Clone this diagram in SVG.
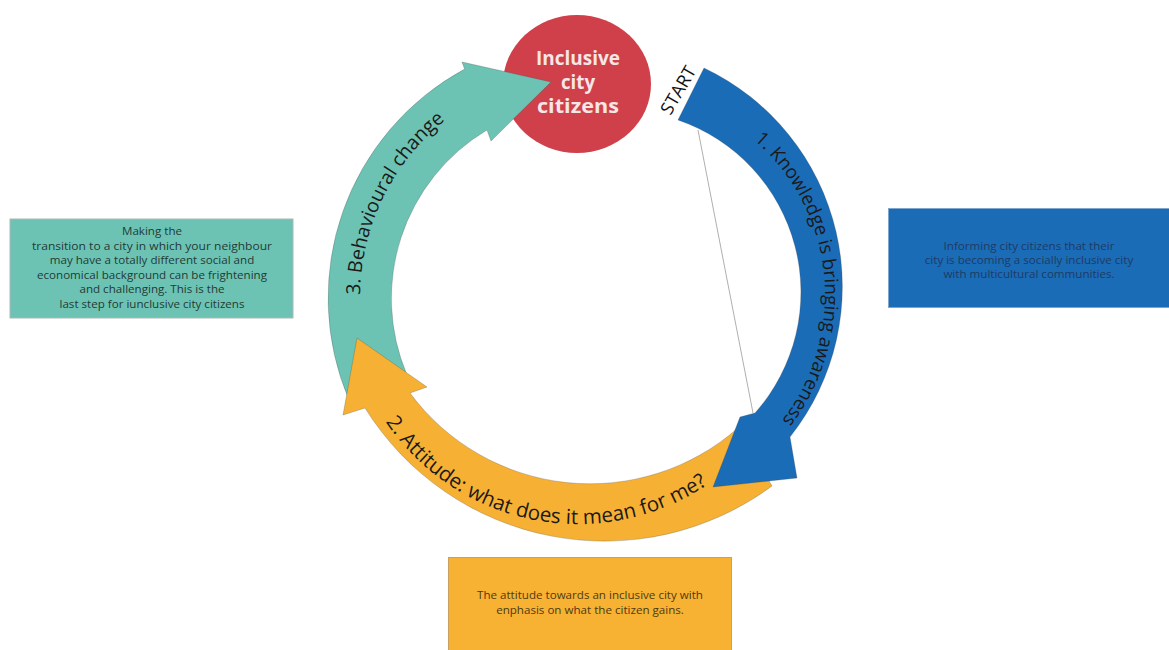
<svg xmlns="http://www.w3.org/2000/svg" width="1169" height="650" viewBox="0 0 1169 650">
<defs>
<style>
text{font-family:"Open Sans","Liberation Sans",sans-serif;}
.box text{font-size:11.6px;text-anchor:middle;}
.lbl{font-size:19px;fill:#1a1a1a;}
.arrow{stroke:#3a3a3a;stroke-opacity:0.35;stroke-width:0.7;stroke-linejoin:miter;}
.title{font-size:19px;font-weight:700;fill:#f6e6e6;text-anchor:middle;}
</style>
<path id="p-blue" d="M720.3,116.2 A205,205 0 0 1 753.7,450.4"/>
<path id="p-orange" d="M367.7,390 A232,232 0 0 0 736.2,461.7"/>
<path id="p-teal" d="M390.5,412 A228,228 0 0 1 556.3,72.2"/>
</defs>
<rect width="1169" height="650" fill="#ffffff"/>

<g id="box-behaviour" class="box">
<rect x="10" y="219" width="283" height="99" fill="#6dc3b3" stroke="#a9bab6" stroke-width="1"/>
<g fill="#1f3b37">
<text x="152" y="235">Making the</text>
<text x="152" y="249.5" textLength="240" lengthAdjust="spacingAndGlyphs">transition to a city in which your neighbour</text>
<text x="152" y="264">may have a totally different social and</text>
<text x="152" y="278.5">economical background can be frightening</text>
<text x="152" y="293">and challenging. This is the</text>
<text x="152" y="307.5">last step for iunclusive city citizens</text>
</g>
</g>

<g id="box-knowledge" class="box">
<rect x="888.5" y="208.5" width="281" height="99" fill="#1b6cb7" stroke="#7fa6cf" stroke-width="1"/>
<g fill="#1d3b66">
<text x="1029" y="250">Informing city citizens that their</text>
<text x="1029" y="264">city is becoming a socially inclusive city</text>
<text x="1029" y="278">with multicultural communities.</text>
</g>
</g>

<g id="box-attitude" class="box">
<rect x="448.5" y="557.5" width="283" height="93" fill="#f7b233" stroke="#c9a060" stroke-width="1"/>
<g fill="#4f3a12">
<text x="590" y="599">The attitude towards an inclusive city with</text>
<text x="590" y="613.5">enphasis on what the citizen gains.</text>
</g>
</g>

<g id="inclusive-citizens">
<ellipse cx="577" cy="84" rx="74" ry="69" fill="#cf404b"/>
<text class="title" x="578" y="65" textLength="84" lengthAdjust="spacingAndGlyphs">Inclusive</text>
<text class="title" x="578" y="89" textLength="34" lengthAdjust="spacingAndGlyphs">city</text>
<text class="title" x="578" y="113" textLength="82" lengthAdjust="spacingAndGlyphs">citizens</text>
</g>

<g id="step3-behaviour">
<path class="arrow" fill="#6dc3b3" d="M349,400 A260,260 0 0 1 464.6,69.1 L462,62 L551,82 L491,141 L487,130 A196,196 0 0 0 407,375 Z"/>
<text class="lbl" style="font-size:19.5px"><textPath href="#p-teal" startOffset="50%" text-anchor="middle">3. Behavioural change</textPath></text>
</g>

<g id="step2-attitude">
<path class="arrow" fill="#f6b134" d="M772,486 A282,282 0 0 1 365,408 L343,415 L357,338 L427,387 L410,393 A224,224 0 0 0 738,428 Z"/>
<text class="lbl" style="font-size:20.5px"><textPath href="#p-orange" startOffset="50%" text-anchor="middle">2. Attitude: what does it mean for me?</textPath></text>
</g>

<g id="step1-knowledge">
<path class="arrow" fill="#1b6cb7" d="M704,68 A242,242 0 0 1 790,437 L797,478 L713,487 L740,417 L755,413 A182,182 0 0 0 678,120 Z"/>
<text class="lbl" style="font-size:18.8px"><textPath href="#p-blue" startOffset="50%" text-anchor="middle">1. Knowledge is bringing awareness</textPath></text>
</g>

<g id="connectors">
<line x1="698" y1="130" x2="753" y2="413" stroke="#9a9a9a" stroke-width="0.8"/>
</g>

<g id="start-label">
<text x="0" y="0" transform="translate(683.6,93.3) rotate(-60)" font-size="18" fill="#111" text-anchor="middle">START</text>
</g>
</svg>
